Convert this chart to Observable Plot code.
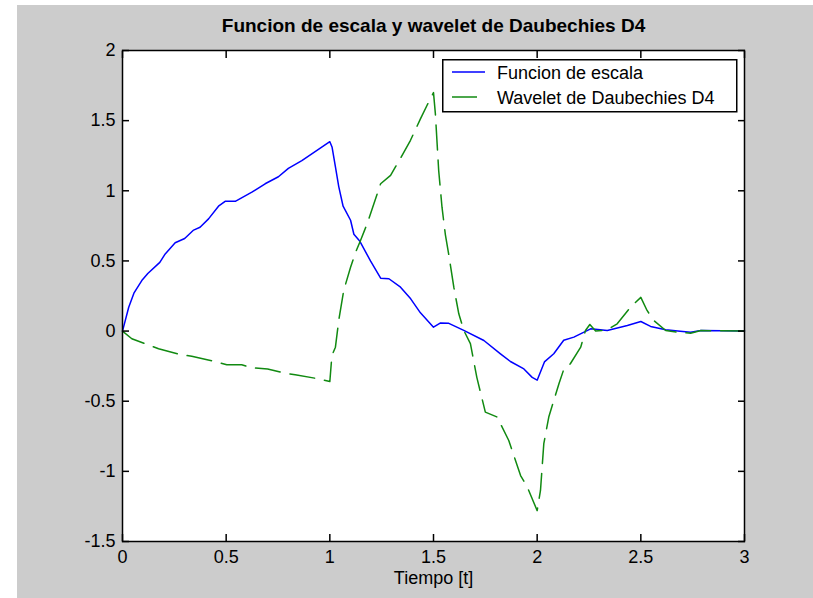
<!DOCTYPE html>
<html>
<head>
<meta charset="utf-8">
<script src="https://cdn.jsdelivr.net/npm/d3@7"></script>
<script src="https://cdn.jsdelivr.net/npm/@observablehq/plot@0.6"></script>
<style>
  html, body { margin: 0; padding: 0; background: #ffffff; }
  #fig { position: absolute; left: 17px; top: 5px; width: 796px; height: 593px; background: #cccccc; overflow: hidden; }
  #fig > svg.main { position: absolute; left: 0; top: 0; }
  #fig > svg#legend { position: absolute; left: 425px; top: 54px; }
</style>
</head>
<body>
<div id="fig"></div>
<script>
// ---- text ----
const title = "Funcion de escala y wavelet de Daubechies D4";
const xLabel = "Tiempo [t]";
const seriesNames = ["Funcion de escala", "Wavelet de Daubechies D4"];

// ---- ticks ----
const xTicks = [0, 0.5, 1, 1.5, 2, 2.5, 3];
const yTicks = [-1.5, -1, -0.5, 0, 0.5, 1, 1.5, 2];

// ---- scaling function ----
const phiT = [0, 0.03, 0.055, 0.093, 0.122, 0.18, 0.206, 0.254, 0.30, 0.343, 0.374, 0.415, 0.463, 0.495, 0.544,
  0.624, 0.688, 0.752, 0.80, 0.865, 0.945, 1.0, 1.011, 1.027, 1.043, 1.064, 1.10, 1.116, 1.145, 1.196,
  1.245, 1.285, 1.341, 1.39, 1.437, 1.50, 1.534, 1.574, 1.646, 1.743, 1.823, 1.871, 1.936, 1.976, 2.0,
  2.035, 2.08, 2.128, 2.177, 2.258, 2.338, 2.435, 2.5, 2.547, 2.62, 2.69, 2.74, 2.79, 3.0];
const phiV = [0, 0.17, 0.27, 0.36, 0.41, 0.49, 0.55, 0.63, 0.66, 0.72, 0.74, 0.80, 0.89, 0.925, 0.925,
  0.99, 1.05, 1.10, 1.16, 1.215, 1.295, 1.35, 1.31, 1.17, 1.03, 0.89, 0.79, 0.69, 0.64, 0.50,
  0.377, 0.373, 0.313, 0.23, 0.13, 0.028, 0.058, 0.055, 0.005, -0.067, -0.162, -0.217, -0.27, -0.33, -0.35,
  -0.22, -0.162, -0.065, -0.043, 0.016, 0.004, 0.04, 0.068, 0.033, 0.009, -0.001, -0.008, 0.004, 0];

// ---- wavelet ----
const psiT = [0, 0.045, 0.117, 0.174, 0.278, 0.334, 0.447, 0.503, 0.575, 0.624, 0.70, 0.785, 0.833, 0.945, 1.0,
  1.01, 1.027, 1.043, 1.067, 1.10, 1.124, 1.148, 1.18, 1.204, 1.245, 1.293, 1.34, 1.389, 1.437, 1.469, 1.5,
  1.509, 1.525, 1.541, 1.557, 1.573, 1.598, 1.622, 1.646, 1.678, 1.709, 1.75, 1.807, 1.863, 1.92, 1.952, 2.0,
  2.016, 2.032, 2.056, 2.08, 2.105, 2.129, 2.16, 2.21, 2.233, 2.254, 2.282, 2.338, 2.386, 2.45, 2.5,
  2.53, 2.562, 2.62, 2.69, 2.74, 2.79, 3.0];
const psiV = [0, -0.055, -0.095, -0.126, -0.167, -0.18, -0.217, -0.24, -0.24, -0.262, -0.27, -0.30, -0.312, -0.34, -0.36,
  -0.174, -0.115, 0.076, 0.29, 0.455, 0.56, 0.646, 0.765, 0.87, 1.05, 1.11, 1.23, 1.36, 1.513, 1.61, 1.70,
  1.55, 1.145, 0.883, 0.69, 0.55, 0.313, 0.123, 0.005, -0.09, -0.33, -0.578, -0.613, -0.78, -1.03, -1.11, -1.28,
  -1.136, -0.803, -0.613, -0.495, -0.376, -0.27, -0.233, -0.115, 0.004, 0.047, 0, 0.009, 0.052, 0.17, 0.24,
  0.147, 0.076, 0.004, -0.01, -0.015, 0.004, 0];

const phiData = phiT.map((t, i) => ({t, v: phiV[i]}));
const psiData = psiT.map((t, i) => ({t, v: psiV[i]}));

const blue = "#0000ff";
const green = "#118a11";
const dash = "25,10";
const fmt = d => String(d);

const chart = Plot.plot({
  width: 796,
  height: 593,
  marginLeft: 105,
  marginRight: 69,
  marginTop: 45,
  marginBottom: 57,
  className: "main",
  style: {background: "transparent", fontFamily: "'Liberation Sans', Arial, sans-serif", fontSize: "18px", color: "#000"},
  x: {domain: [0, 3]},
  y: {domain: [-1.5, 2]},
  marks: [
    Plot.frame({fill: "white", stroke: null}),
    Plot.line(phiData, {x: "t", y: "v", stroke: blue, strokeWidth: 1.5}),
    Plot.line(psiData, {x: "t", y: "v", stroke: green, strokeWidth: 1.5, strokeDasharray: dash}),
    Plot.frame({stroke: "#000", strokeWidth: 1.5}),
    // inward ticks on all four sides
    Plot.axisX({anchor: "bottom", ticks: xTicks, tickSize: 7, dy: -7, tickFormat: () => "", label: null, strokeWidth: 1.5}),
    Plot.axisX({anchor: "top", ticks: xTicks, tickSize: 7, dy: 7, tickFormat: () => "", label: null, strokeWidth: 1.5}),
    Plot.axisY({anchor: "left", ticks: yTicks, tickSize: 7, dx: 7, tickFormat: () => "", label: null, strokeWidth: 1.5}),
    Plot.axisY({anchor: "right", ticks: yTicks, tickSize: 7, dx: -7, tickFormat: () => "", label: null, strokeWidth: 1.5}),
    // tick labels
    Plot.axisX({anchor: "bottom", ticks: xTicks, tickSize: 0, tickPadding: 9, tickFormat: fmt, label: null, fontSize: 18}),
    Plot.axisY({anchor: "left", ticks: yTicks, tickSize: 0, tickPadding: 7, tickFormat: fmt, label: null, fontSize: 18}),
    // title and axis label
    Plot.text([title], {frameAnchor: "top", dy: -25, text: d => d, fontSize: 19, fontWeight: "bold", lineAnchor: "middle"}),
    Plot.text([xLabel], {frameAnchor: "bottom", dy: 37, text: d => d, fontSize: 18, lineAnchor: "middle"})
  ]
});
document.getElementById("fig").appendChild(chart);

// legend box
const lg = d3.select("#fig").append("svg").attr("id", "legend")
  .attr("width", 296).attr("height", 54)
  .style("position", "absolute").style("left", "425px").style("top", "54px")
  .style("font-family", "'Liberation Sans', Arial, sans-serif").style("font-size", "18px");
lg.append("rect").attr("x", 0.75).attr("y", 0.75).attr("width", 294).attr("height", 52)
  .attr("fill", "white").attr("stroke", "#000").attr("stroke-width", 1.5);
const entries = [{name: seriesNames[0], color: blue, dash: null}, {name: seriesNames[1], color: green, dash: dash}];
entries.forEach((e, i) => {
  const cy = 13 + i * 25;
  lg.append("line").attr("x1", 10).attr("x2", 43).attr("y1", cy).attr("y2", cy)
    .attr("stroke", e.color).attr("stroke-width", 1.5).attr("stroke-dasharray", e.dash);
  lg.append("text").attr("x", 55).attr("y", cy + 7).attr("fill", "#000").text(e.name);
});
</script>
</body>
</html>
